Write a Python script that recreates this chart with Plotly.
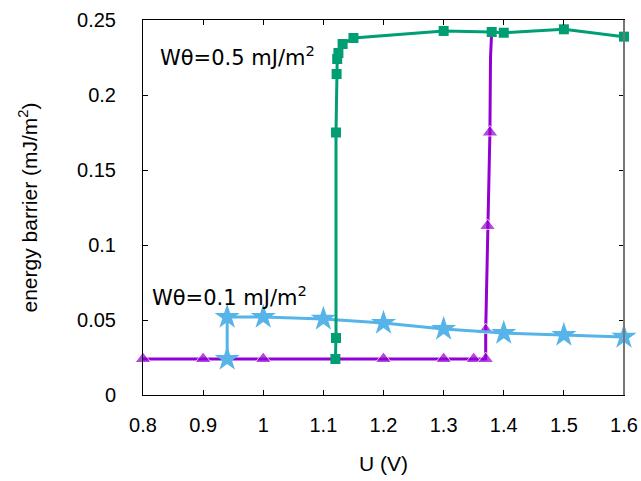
import plotly.graph_objects as go

# Green: W_theta = 0.5 mJ/m^2 (squares)
green_u = [1.120, 1.121, 1.121, 1.122, 1.123, 1.125, 1.132, 1.150, 1.30, 1.38, 1.40, 1.50, 1.60]
green_e = [0.024, 0.038, 0.175, 0.214, 0.224, 0.228, 0.234, 0.238, 0.2427, 0.242, 0.2415, 0.2438, 0.2389]

# Purple (triangles)
purple_u = [0.80, 0.90, 1.00, 1.20, 1.30, 1.35, 1.370, 1.370, 1.372, 1.373, 1.375, 1.377, 1.378, 1.380]
purple_e = [0.024, 0.024, 0.024, 0.024, 0.024, 0.024, 0.024, 0.0433, 0.080, 0.1127, 0.150, 0.175, 0.225, 0.243]
purple_marker = [True, True, True, True, True, True, True, True, False, True, False, True, False, False]

# Blue: W_theta = 0.1 mJ/m^2 (stars)
blue_u = [0.94, 0.94, 1.00, 1.10, 1.20, 1.30, 1.40, 1.50, 1.60]
blue_e = [0.024, 0.052, 0.052, 0.0507, 0.048, 0.044, 0.0413, 0.040, 0.0387]

x_ticks = [0.8, 0.9, 1.0, 1.1, 1.2, 1.3, 1.4, 1.5, 1.6]
x_ticktext = ["0.8", "0.9", "1", "1.1", "1.2", "1.3", "1.4", "1.5", "1.6"]
y_ticks = [0, 0.05, 0.1, 0.15, 0.2, 0.25]
y_ticktext = ["0", "0.05", "0.1", "0.15", "0.2", "0.25"]

GREEN = "#009E73"
PURPLE = "#9400D3"
BLUE = "#56B4E9"

fig = go.Figure()

fig.add_trace(go.Scatter(
    x=purple_u, y=purple_e, mode="lines+markers",
    line=dict(color=PURPLE, width=3),
    marker=dict(symbol="triangle-up", color=PURPLE,
                size=[14 if m else 0 for m in purple_marker]),
    showlegend=False, cliponaxis=False))

fig.add_trace(go.Scatter(
    x=blue_u, y=blue_e, mode="lines+markers",
    line=dict(color=BLUE, width=3),
    marker=dict(symbol="star", color=BLUE, size=19),
    showlegend=False, cliponaxis=False))

fig.add_trace(go.Scatter(
    x=green_u, y=green_e, mode="lines+markers",
    line=dict(color=GREEN, width=3),
    marker=dict(symbol="square", color=GREEN, size=10),
    showlegend=False, cliponaxis=False))

font_ticks = dict(family="Liberation Sans, Arial, sans-serif", size=20, color="#000000")
font_title = dict(family="Liberation Sans, Arial, sans-serif", size=21, color="#000000")
font_ann = dict(family="DejaVu Sans, Verdana, sans-serif", size=21, color="#000000")

fig.update_layout(
    width=641, height=481,
    margin=dict(l=143, r=17, t=20, b=86),
    paper_bgcolor="white", plot_bgcolor="white",
    font=font_ticks,
    xaxis=dict(
        range=[0.8, 1.6], tickvals=x_ticks, ticktext=x_ticktext,
        ticks="inside", ticklen=5, tickcolor="#000", mirror="allticks",
        showline=True, linecolor="#000", linewidth=1,
        showgrid=False, zeroline=False, automargin=False,
        ticklabelstandoff=12,
        title=dict(text="U (V)", font=font_title, standoff=21),
        tickfont=font_ticks,
    ),
    yaxis=dict(
        range=[0, 0.25], tickvals=y_ticks, ticktext=y_ticktext,
        ticks="inside", ticklen=5, tickcolor="#000", mirror="allticks",
        showline=True, linecolor="#000", linewidth=1,
        showgrid=False, zeroline=False, automargin=False,
        ticklabelstandoff=22,
        title=dict(text="energy barrier (mJ/m<sup>2</sup>)", font=font_title, standoff=33),
        tickfont=font_ticks,
    ),
    annotations=[
        dict(x=0.825, y=0.226, xref="x", yref="y", text="Wθ=0.5 mJ/m<sup>2</sup>",
             showarrow=False, xanchor="left", yanchor="middle", font=font_ann),
        dict(x=0.812, y=0.066, xref="x", yref="y", text="Wθ=0.1 mJ/m<sup>2</sup>",
             showarrow=False, xanchor="left", yanchor="middle", font=font_ann),
    ],
    shapes=[
        dict(type="line", xref="paper", yref="paper", x0=1, x1=1, y0=0, y1=1,
             line=dict(color="#777777", width=2)),
    ],
)

fig.write_html("out.html")
